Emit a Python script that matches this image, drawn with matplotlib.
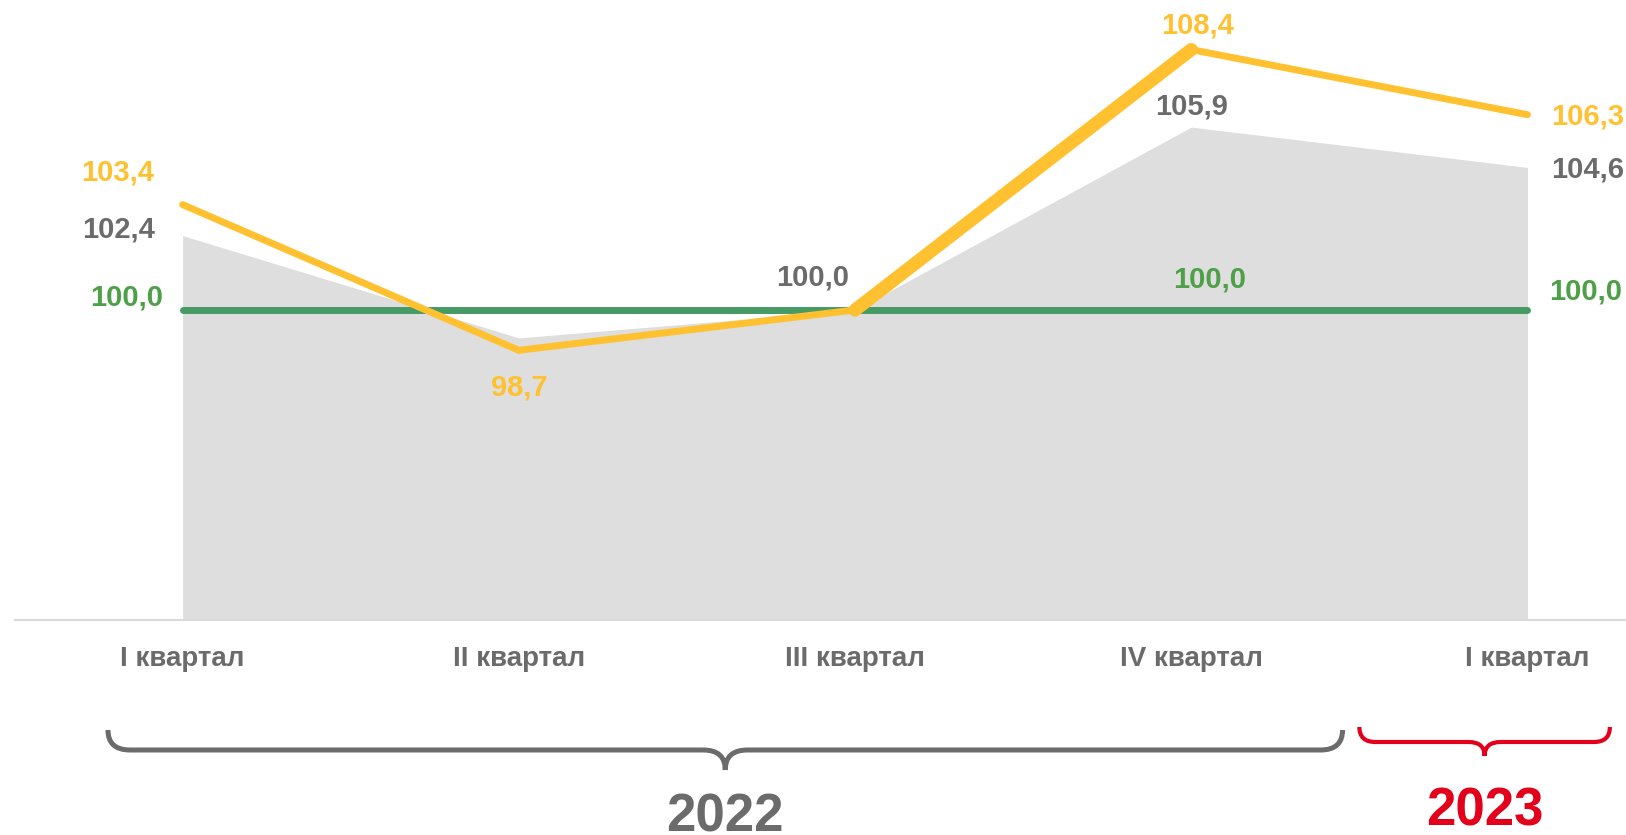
import matplotlib
matplotlib.use("Agg")
import matplotlib.pyplot as plt
from matplotlib.path import Path
from matplotlib.patches import PathPatch

plt.rcParams['font.family'] = ['Liberation Sans', 'DejaVu Sans']
plt.rcParams['font.weight'] = 'bold'

# data
quarters = ["I квартал", "II квартал", "III квартал", "IV квартал", "I квартал"]
gray_vals = [102.4, 99.1, 100.0, 105.9, 104.6]
yellow_vals = [103.4, 98.7, 100.0, 108.4, 106.3]
green_vals = [100.0, 100.0, 100.0, 100.0, 100.0]
yellow_widths = [5.0, 5.0, 9.5, 5.0]   # per segment
years = ["2022", "2023"]

YELLOW = '#FFC12F'
GRAY_TXT = '#6B6B6B'
GREEN = '#469A64'
GREEN_TXT = '#4EA048'
RED = '#E2001A'
FILL = '#DEDEDE'

W, H = 1626, 835
fig = plt.figure(figsize=(W / 100, H / 100), dpi=100)
ax = fig.add_axes([14.5 / W, 215 / H, 1 - 14.5 / W, 620 / H])
x = list(range(len(quarters)))

ax.fill_between(x, 90, gray_vals, color=FILL, lw=0, zorder=1)
ax.plot(x, green_vals, color=GREEN, lw=5, solid_capstyle='round', zorder=2)
for i in range(len(x) - 1):
    ax.plot(x[i:i + 2], yellow_vals[i:i + 2], color=YELLOW, lw=yellow_widths[i],
            solid_capstyle='round', zorder=3)

ax.set_xlim(-0.5, 4.293)
ax.set_ylim(90, 110)
ax.set_yticks([])
ax.set_xticks(x)
ax.set_xticklabels(quarters, fontsize=20, color=GRAY_TXT, fontweight='bold')
ax.tick_params(axis='x', length=0, pad=19)
for s in ['top', 'left', 'right']:
    ax.spines[s].set_visible(False)
ax.spines['bottom'].set_color('#D9D9D9')
ax.spines['bottom'].set_linewidth(1.5)


def lbl(i, v, txt, color, dx, dy, ha='center'):
    ax.annotate(txt, (x[i], v), xytext=(dx, dy), textcoords='offset pixels',
                ha=ha, va='center', fontsize=21, color=color, fontweight='bold', zorder=5)


fmt = lambda v: f"{v:.1f}".replace('.', ',')
# yellow labels
lbl(0, yellow_vals[0], fmt(yellow_vals[0]), YELLOW, -28, 32, 'right')
lbl(1, yellow_vals[1], fmt(yellow_vals[1]), YELLOW, 0, -37)
lbl(3, yellow_vals[3], fmt(yellow_vals[3]), YELLOW, 6, 24)
lbl(4, yellow_vals[4], fmt(yellow_vals[4]), YELLOW, 24, -2, 'left')
# gray labels
lbl(0, gray_vals[0], fmt(gray_vals[0]), GRAY_TXT, -28, 6, 'right')
lbl(2, gray_vals[2], fmt(gray_vals[2]), GRAY_TXT, -42, 32)
lbl(3, gray_vals[3], fmt(gray_vals[3]), GRAY_TXT, 0, 21)
lbl(4, gray_vals[4], fmt(gray_vals[4]), GRAY_TXT, 24, -2, 'left')
# green labels
lbl(0, green_vals[0], fmt(green_vals[0]), GREEN_TXT, -19, 12, 'right')
lbl(3, green_vals[3], fmt(green_vals[3]), GREEN_TXT, 18, 30)
lbl(4, green_vals[4], fmt(green_vals[4]), GREEN_TXT, 22, 18, 'left')


def brace(xd0, xd1, y_end, y_bar, y_tip, r, color, lw):
    # x in data units, y in pixels from the top of the figure
    px0 = ax.transData.transform((xd0, 100))[0]
    px1 = ax.transData.transform((xd1, 100))[0]
    pm = (px0 + px1) / 2
    pts = [(px0, y_end), (px0, y_bar), (px0 + r, y_bar),
           (pm - r, y_bar), (pm, y_bar), (pm, y_tip),
           (px1, y_end), (px1, y_bar), (px1 - r, y_bar),
           (pm + r, y_bar), (pm, y_bar), (pm, y_tip)]
    codes = [Path.MOVETO, Path.CURVE3, Path.CURVE3,
             Path.LINETO, Path.CURVE3, Path.CURVE3] * 2
    verts = [(px / W, 1 - py / H) for px, py in pts]
    fig.add_artist(PathPatch(Path(verts, codes), transform=fig.transFigure, fill=False,
                             edgecolor=color, lw=lw, capstyle='butt', joinstyle='round'))
    return pm


m1 = brace(-0.222, 3.45, 730, 750, 770, 22, GRAY_TXT, 3.6)
m2 = brace(3.50, 4.245, 727, 742, 756, 16, RED, 3.0)

fig.text(m1 / W, 1 - 818 / H, years[0], ha='center', va='center', fontsize=38,
         color=GRAY_TXT, fontweight='bold')
fig.text(m2 / W, 1 - 811 / H, years[1], ha='center', va='center', fontsize=38,
         color=RED, fontweight='bold')

fig.savefig('out.png', dpi=100)
